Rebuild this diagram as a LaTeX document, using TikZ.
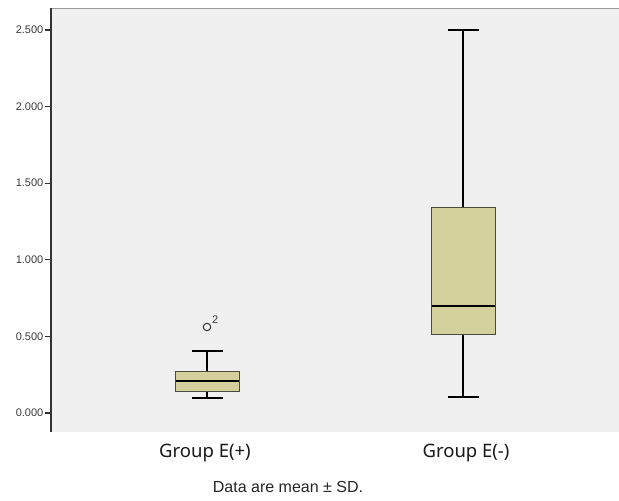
\documentclass[tikz,border=0pt]{standalone}
\usepackage{fontspec}
\setmainfont{Liberation Sans}
\newfontfamily\grpfont{Noto Sans}
\definecolor{plotbg}{HTML}{F0F0F0}
\definecolor{boxfill}{HTML}{D3D09B}
\definecolor{boxedge}{HTML}{4A4A40}
\definecolor{ticktext}{HTML}{3A3A3A}
\begin{document}
\begin{tikzpicture}[x=1pt,y=-1pt,
  whisker/.style={black,line width=1.6pt},
  boxst/.style={fill=boxfill,draw=boxedge,line width=1pt},
  median/.style={black,line width=2.6pt},
  ticklab/.style={anchor=east,inner sep=0pt,font=\fontsize{11}{12}\selectfont,text=ticktext},
  grplab/.style={font=\grpfont\fontsize{18.5}{20}\selectfont,inner sep=0pt,text=black!90}]
\useasboundingbox (0,0) rectangle (619,501);
\fill[white] (0,0) rectangle (619,501);
% plot area
\fill[plotbg] (51,8) rectangle (619,432);
\draw[gray!80,line width=1pt] (51,8) -- (619,8);
\draw[black!80,line width=1.5pt] (51,8) -- (51,432);
% ticks
\foreach \v/\y in {0.000/413,0.500/336.4,1.000/259.8,1.500/183.2,2.000/106.6,2.500/30} {
  \draw[black!80,line width=1.2pt] (45,\y) -- (51,\y);
  \node[ticklab] at (43.5,\y) {\v};
}
% group 1
\coordinate (g1lo) at (207,398);
\coordinate (g1hi) at (207,351);
\coordinate (g1bb) at (207,391);
\coordinate (g1bt) at (207,371);
\draw[whisker] (g1lo) -- (g1bb);
\draw[whisker] (g1bt) -- (g1hi);
\draw[whisker] (192,398) -- (223,398);
\draw[whisker] (192,351) -- (223,351);
\draw[boxst] (175,371) rectangle (239,391);
\draw[median] (175.5,381) -- (238.5,381);
\node[draw=black!80,line width=1pt,circle,minimum size=7.5pt,inner sep=0pt] (out) at (207,327) {};
\node[anchor=base west,inner sep=0pt,font=\fontsize{11}{12}\selectfont,text=ticktext] (outlab) at (212,323.5) {2};
% group 2
\coordinate (g2lo) at (463,397);
\coordinate (g2hi) at (463,30);
\coordinate (g2bb) at (463,334);
\coordinate (g2bt) at (463,207);
\draw[whisker] (g2lo) -- (g2bb);
\draw[whisker] (g2bt) -- (g2hi);
\draw[whisker] (448,397) -- (479,397);
\draw[whisker] (448,30) -- (479,30);
\draw[boxst] (431,207) rectangle (495,334);
\draw[median] (431.5,306) -- (494.5,306);
% labels
\node[grplab] (l1) at (205,453) {Group E(+)};
\node[grplab] (l2) at (466,453) {Group E(-)};
\node[inner sep=0pt,font=\fontsize{16}{18}\selectfont,text=black!85] (note) at (288,487) {Data are mean ± SD.};
\end{tikzpicture}
\end{document}
